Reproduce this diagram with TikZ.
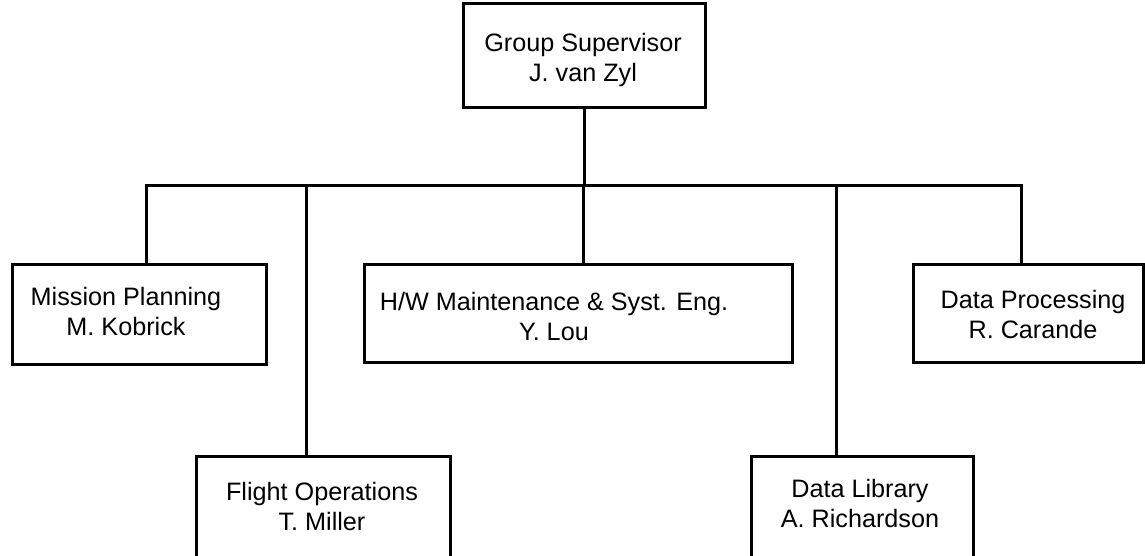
\documentclass[tikz,border=0pt]{standalone}
\usepackage{fontspec}
\setmainfont{Liberation Sans}
\begin{document}
\begin{tikzpicture}[x=1pt,y=-1pt,
  box/.style={draw=black,line width=3pt,rectangle,inner sep=0pt,fill=white},
  txt/.style={align=center,anchor=base,inner sep=0pt,font=\fontsize{25.2pt}{30pt}\selectfont},
  conn/.style={draw=black,line width=3pt,line cap=rect}]
\useasboundingbox (0,0) rectangle (1145,556);
\clip (0,0) rectangle (1145,556);
\fill[white] (0,0) rectangle (1145,556);
% boxes
\node[box,minimum width=242pt,minimum height=104pt] (sup) at (584,56) {};
\node[box,minimum width=254pt,minimum height=100pt] (mp) at (139,314) {};
\node[box,minimum width=428pt,minimum height=98pt] (hw) at (578,313) {};
\node[box,minimum width=230pt,minimum height=98pt] (dp) at (1028,313) {};
\node[box,minimum width=254pt,minimum height=124pt] (fo) at (323,518) {};
\node[box,minimum width=222pt,minimum height=124pt] (dl) at (862,518) {};
% texts (anchor base = baseline of last line)
\node[txt] (supt) at (583,82) {Group Supervisor\\J. van Zyl};
\node[txt] (mpt) at (126,335) {Mission Planning\\M. Kobrick};
\node[txt] (hwt) at (554,340) {H/W Maintenance \& Syst. Eng.\\Y. Lou};
\node[txt] (dpt) at (1033,338) {Data Processing\\R. Carande};
\node[txt] (fot) at (322,530) {Flight Operations\\T. Miller};
\node[txt] (dlt) at (860,527) {Data Library\\A. Richardson};
% bus
\coordinate (bmid) at (584,186);
\coordinate (bmp) at (146,186);
\coordinate (bfo) at (306,186);
\coordinate (bhw) at (583,186);
\coordinate (bdl) at (836,186);
\coordinate (bdp) at (1021,186);
\draw[conn] (sup.south -| bmid) -- (bmid);
\draw[conn] (bmp) -- (bdp);
\draw[conn] (bmp) -- (bmp |- mp.north);
\draw[conn] (bfo) -- (bfo |- fo.north);
\draw[conn] (bhw) -- (bhw |- hw.north);
\draw[conn] (bdl) -- (bdl |- dl.north);
\draw[conn] (bdp) -- (bdp |- dp.north);
\end{tikzpicture}
\end{document}
